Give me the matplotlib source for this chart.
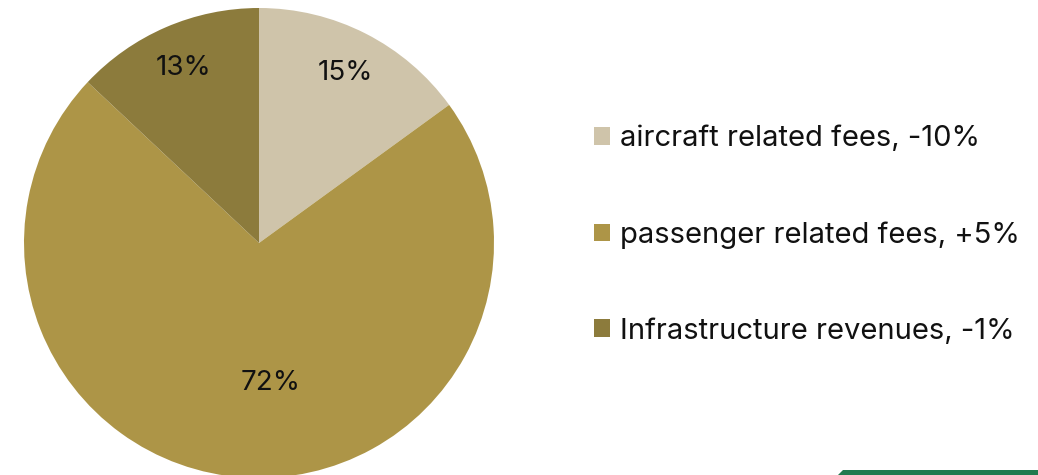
import matplotlib.pyplot as plt
from matplotlib.patches import Polygon
import numpy as np

# datos del grafico
categorias = ['aircraft related fees, -10%', 'passenger related fees, +5%',
              'Infrastructure revenues, -1%']
valores = [15, 72, 13]
colores = ['#CFC4AA', '#AD9547', '#8C7B3C']

plt.rcParams['font.family'] = ['Inter', 'DejaVu Sans']

fig = plt.figure(figsize=(10.38, 4.75), dpi=100)

# ejes del pastel: centro (259, 243), radio 235 px
W, H = 1038, 475
cx, cy, r = 259, 243, 235
ax = fig.add_axes([(cx - r) / W, (H - cy - r) / H, 2 * r / W, 2 * r / H])

wedges, textos, autotextos = ax.pie(valores, colors=colores, startangle=90,
                                    counterclock=False, radius=1,
                                    autopct='%1.0f%%', pctdistance=0.81,
                                    textprops={'fontsize': 20, 'color': '#111111'})
ax.set_xlim(-1, 1)
ax.set_ylim(-1, 1)
ax.set_aspect('equal')

# la etiqueta grande va mas al centro
w = wedges[1]
ang = np.deg2rad((w.theta1 + w.theta2) / 2 + 8.5)
autotextos[1].set_position((0.6 * np.cos(ang), 0.6 * np.sin(ang)))

ax.legend(wedges, categorias, loc='center left',
          bbox_to_anchor=(568 / W, 1 - 235 / H), bbox_transform=fig.transFigure,
          frameon=False, fontsize=21, labelspacing=2.36,
          handlelength=0.55, handleheight=0.55, handletextpad=0.34,
          labelcolor='#111111')

# barra verde abajo a la derecha
fig.patches.append(Polygon([(838 / W, 0), (843 / W, 5 / H), (1, 5 / H), (1, 0)],
                           closed=True, transform=fig.transFigure,
                           facecolor='#217A4E', edgecolor='none'))

fig.savefig('out.png', dpi=100)
